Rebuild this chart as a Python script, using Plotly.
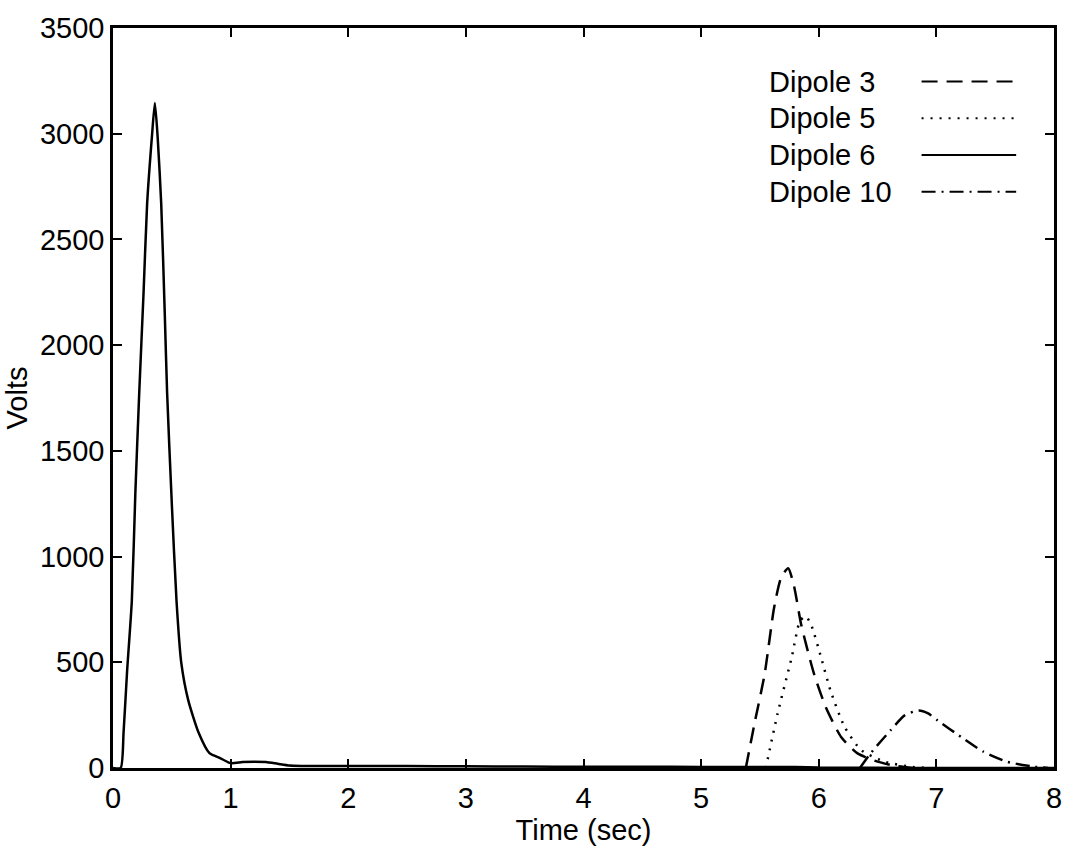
import plotly.graph_objects as go

# ---- data ----
t_d6 = [0.0, 0.065, 0.09, 0.12, 0.16, 0.19, 0.223, 0.26, 0.29, 0.33, 0.356, 0.38, 0.41, 0.44, 0.46, 0.50,
        0.54, 0.58, 0.64, 0.73, 0.82, 0.91, 1.0, 1.1, 1.2, 1.3, 1.4, 1.5, 1.6, 2.0, 2.5, 3.0,
        3.5, 4.0, 4.5, 5.0, 5.5, 5.8, 6.0, 6.5, 7.0, 8.0]
v_d6 = [0, 0, 170, 460, 790, 1300, 1775, 2250, 2667, 2980, 3145, 2980, 2667, 2150, 1775, 1250,
        790, 500, 320, 164, 70, 47, 23, 28, 30, 28, 20, 12, 10, 10, 9, 8,
        7, 6, 6, 5, 5, 5, 2, 1, 0, 0]

t_d3 = [5.38, 5.45, 5.54, 5.62, 5.68, 5.74, 5.79, 5.85, 5.96, 6.06, 6.19, 6.33, 6.50, 6.65, 6.80]
v_d3 = [0, 200, 444, 757, 900, 945, 860, 680, 445, 288, 147, 69, 30, 10, 0]

t_d5 = [5.55, 5.65, 5.77, 5.84, 5.89, 5.94, 6.02, 6.10, 6.22, 6.36, 6.56, 6.78, 6.95]
v_d5 = [0, 257, 523, 695, 718, 670, 523, 366, 194, 85, 30, 6, 0]

t_d10 = [6.35, 6.44, 6.61, 6.73, 6.85, 6.93, 7.01, 7.21, 7.40, 7.60, 7.83, 7.95]
v_d10 = [0, 69, 178, 249, 272, 258, 225, 147, 77, 30, 6, 0]

series_names = ["Dipole 3", "Dipole 5", "Dipole 6", "Dipole 10"]
series_dash = ["16px,9px", "2px,7px", "solid", "14px,6px,2px,6px"]
series_t = [t_d3, t_d5, t_d6, t_d10]
series_v = [v_d3, v_d5, v_d6, v_d10]

FONT = "Liberation Sans, Arial, Helvetica, sans-serif"
FS = 29

fig = go.Figure()
for name, dash, t, v in zip(series_names, series_dash, series_t, series_v):
    fig.add_trace(go.Scatter(x=t, y=v, mode="lines", name=name,
                             line=dict(color="black", width=2.5, dash=dash,
                                       shape="spline", smoothing=0.6),
                             showlegend=False))

# ---- hand-drawn legend (text left, sample right) ----
L, R, T, B = 113, 1058, 22, 768
def px(x): return (x - L) / (R - L)
def py(y): return (B - y) / (B - T)

leg_rows_y = [76, 113, 150, 187]
for name, dash, y in zip(series_names, series_dash, leg_rows_y):
    fig.add_annotation(x=px(770), y=py(y), xref="paper", yref="paper", text=name,
                       showarrow=False, xanchor="left", yanchor="middle",
                       font=dict(family=FONT, size=FS, color="black"))
    fig.add_shape(type="line", xref="paper", yref="paper",
                  x0=px(925), x1=px(1020), y0=py(y), y1=py(y),
                  line=dict(color="black", width=2, dash=dash))

axis_common = dict(showline=True, linecolor="black", linewidth=2.5, mirror="ticks",
                   ticks="inside", ticklen=9, tickwidth=2, tickcolor="black",
                   showgrid=False, zeroline=False,
                   tickfont=dict(family=FONT, size=FS, color="black"))

fig.update_xaxes(range=[0, 8], dtick=1, tick0=0,
                 title=dict(text="Time (sec)", font=dict(family=FONT, size=FS, color="black"), standoff=2),
                 ticklabelstandoff=2, **axis_common)
fig.update_yaxes(range=[0, 3500], dtick=500, tick0=0,
                 title=dict(text="Volts", font=dict(family=FONT, size=FS, color="black"), standoff=4),
                 ticklabelstandoff=0, **axis_common)

fig.update_layout(width=1074, height=850,
                  margin=dict(l=L, r=1074 - R, t=T, b=850 - B),
                  paper_bgcolor="white", plot_bgcolor="white",
                  font=dict(family=FONT, color="black"))

fig.write_html("out.html")
